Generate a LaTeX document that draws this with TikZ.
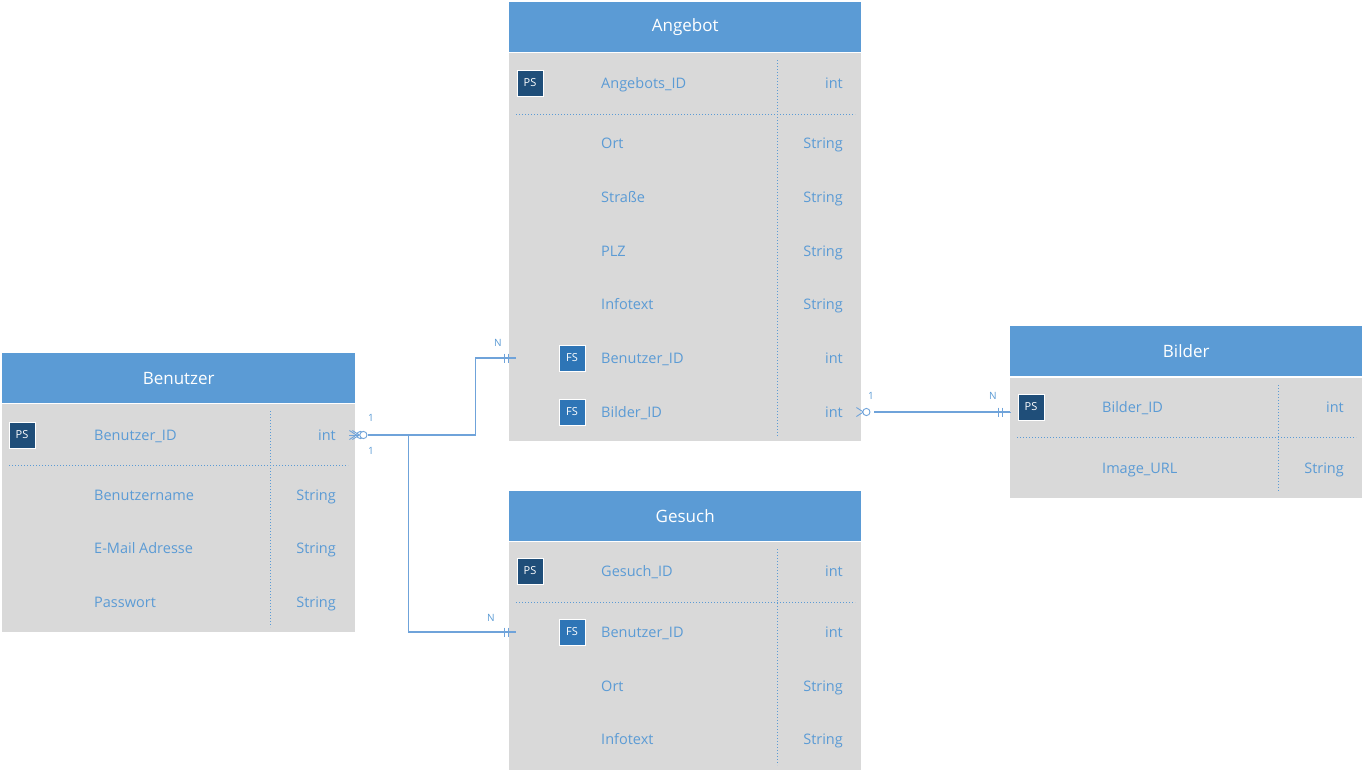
\documentclass[tikz,border=0pt]{standalone}
\usepackage{fontspec}
\setmainfont{Open Sans}
\definecolor{hdr}{HTML}{5B9BD5}
\definecolor{bodygray}{HTML}{D9D9D9}
\definecolor{fldblue}{HTML}{5B9BD5}
\definecolor{psblue}{HTML}{1F4E79}
\definecolor{fsblue}{HTML}{2E75B6}
\definecolor{connblue}{HTML}{6FA3DA}
\tikzset{
  tabtitle/.style={fill=hdr, text=white, font=\fontsize{17}{20}\selectfont, minimum width=352, minimum height=50, inner sep=0, anchor=north west, draw=none},
  tabbody/.style={fill=bodygray, anchor=north west, inner sep=0, minimum width=352, draw=none},
  fld/.style={text=fldblue, font=\fontsize{14.5}{17}\selectfont, anchor=west, inner sep=0, text height=10, text depth=0},
  typ/.style={fld, anchor=east},
  badge/.style={draw=white, line width=1pt, text=white, font=\fontsize{11}{13}\selectfont, minimum size=26, inner sep=0},
  psbadge/.style={badge, fill=psblue},
  fsbadge/.style={badge, fill=fsblue},
  sepline/.style={draw=fldblue, line width=1pt, dash pattern=on 1.3pt off 1.7pt},
  conn/.style={draw=connblue, line width=1.3pt},
  card/.style={text=fldblue, font=\fontsize{10}{12}\selectfont, inner sep=0},
}
\begin{document}
\begin{tikzpicture}[x=1pt,y=-1pt]
\useasboundingbox (0,0) rectangle (1365,772);
\fill[white] (0,0) rectangle (1365,772);

% ---------- Angebot ----------
\node[tabtitle] (ang-t) at (509,2) {Angebot};
\node[tabbody, minimum height=388] (ang-b) at (509,53) {};
\draw[sepline] (777,60) -- (777,436);
\draw[sepline] (516,114) -- (855,114);
\node[psbadge] (ang-ps) at (530,83) {PS};
\node[fld] (ang-n1) at (601,83) {Angebots\_ID};
\node[typ] (ang-y1) at (843,83) {int};
\node[fld] (ang-n2) at (601,143) {Ort};
\node[typ] (ang-y2) at (843,143) {String};
\node[fld] (ang-n3) at (601,197) {Straße};
\node[typ] (ang-y3) at (843,197) {String};
\node[fld] (ang-n4) at (601,251) {PLZ};
\node[typ] (ang-y4) at (843,251) {String};
\node[fld] (ang-n5) at (601,304) {Infotext};
\node[typ] (ang-y5) at (843,304) {String};
\node[fsbadge] (ang-fs1) at (572,358) {FS};
\node[fld] (ang-n6) at (601,358) {Benutzer\_ID};
\node[typ] (ang-y6) at (843,358) {int};
\node[fsbadge] (ang-fs2) at (572,412) {FS};
\node[fld] (ang-n7) at (601,412) {Bilder\_ID};
\node[typ] (ang-y7) at (843,412) {int};

% ---------- Benutzer ----------
\node[tabtitle, minimum width=353] (ben-t) at (2,353) {Benutzer};
\node[tabbody, minimum width=353, minimum height=228] (ben-b) at (2,404) {};
\draw[sepline] (270,411) -- (270,627);
\draw[sepline] (9,465) -- (348,465);
\node[psbadge] (ben-ps) at (22,435) {PS};
\node[fld] (ben-n1) at (94,435) {Benutzer\_ID};
\node[typ] (ben-y1) at (336,435) {int};
\node[fld] (ben-n2) at (94,495) {Benutzername};
\node[typ] (ben-y2) at (336,495) {String};
\node[fld] (ben-n3) at (94,548) {E-Mail Adresse};
\node[typ] (ben-y3) at (336,548) {String};
\node[fld] (ben-n4) at (94,602) {Passwort};
\node[typ] (ben-y4) at (336,602) {String};

% ---------- Gesuch ----------
\node[tabtitle] (ges-t) at (509,491) {Gesuch};
\node[tabbody, minimum height=228] (ges-b) at (509,542) {};
\draw[sepline] (777,549) -- (777,765);
\draw[sepline] (516,602) -- (855,602);
\node[psbadge] (ges-ps) at (530,571) {PS};
\node[fld] (ges-n1) at (601,571) {Gesuch\_ID};
\node[typ] (ges-y1) at (843,571) {int};
\node[fsbadge] (ges-fs1) at (572,632) {FS};
\node[fld] (ges-n2) at (601,632) {Benutzer\_ID};
\node[typ] (ges-y2) at (843,632) {int};
\node[fld] (ges-n3) at (601,686) {Ort};
\node[typ] (ges-y3) at (843,686) {String};
\node[fld] (ges-n4) at (601,739) {Infotext};
\node[typ] (ges-y4) at (843,739) {String};

% ---------- Bilder ----------
\node[tabtitle] (bil-t) at (1010,326) {Bilder};
\node[tabbody, minimum height=120] (bil-b) at (1010,378) {};
\draw[sepline] (1278,385) -- (1278,492);
\draw[sepline] (1017,437) -- (1356,437);
\node[psbadge] (bil-ps) at (1031,407) {PS};
\node[fld] (bil-n1) at (1102,407) {Bilder\_ID};
\node[typ] (bil-y1) at (1344,407) {int};
\node[fld] (bil-n2) at (1102,468) {Image\_URL};
\node[typ] (bil-y2) at (1344,468) {String};

% ---------- connectors ----------
\coordinate (b1) at (ben-b.east |- ben-n1);
\coordinate (a1) at ([xshift=7]ang-b.west |- ang-n6);
\coordinate (g1) at ([xshift=7]ges-b.west |- ges-n2);
\coordinate (a2) at (ang-b.east |- ang-n7);
\coordinate (p2) at (bil-b.west |- a2);

\draw[conn] ([xshift=13]b1) -- ([xshift=120]b1) |- (a1);
\draw[conn] ([xshift=13]b1) -- ([xshift=53]b1) |- (g1);
\draw[conn] ([xshift=13]a2) -- (p2);

% crow's foot with circle at Benutzer (two overlapping)
\foreach \s in {0,3}{
  \draw[connblue, line width=0.9pt] ([xshift=-6+\s]b1) ++(0,-4.5) -- ++(7,4.5) -- ++(-7,4.5);
  \draw[connblue, line width=0.9pt] ([xshift=-6+\s]b1) -- ++(7,0);
  \draw[connblue, line width=0.9pt, fill=white] ([xshift=5+\s]b1) circle (3.6);
}
% crow's foot with circle at Angebot (to Bilder)
\draw[connblue, line width=0.9pt] ([xshift=-5]a2) ++(0,-4.5) -- ++(7,4.5) -- ++(-7,4.5);
\draw[connblue, line width=0.9pt, fill=white] ([xshift=5]a2) circle (3.6);

% one-and-only-one bars
\foreach \c in {a1,g1,p2}{
  \draw[connblue, line width=1pt] ([xshift=-12]\c) ++(0,-4.5) -- ++(0,9);
  \draw[connblue, line width=1pt] ([xshift=-8]\c) ++(0,-4.5) -- ++(0,9);
}
\draw[connblue, line width=1pt] ([xshift=-6]p2) -- ++(7,0);

% cardinality labels
\node[card] (l1) at (371,418) {1};
\node[card] (l2) at (371,451) {1};
\node[card] (l3) at (498,343) {N};
\node[card] (l4) at (491,618) {N};
\node[card] (l5) at (871,396) {1};
\node[card] (l6) at (993,396) {N};
\end{tikzpicture}
\end{document}
